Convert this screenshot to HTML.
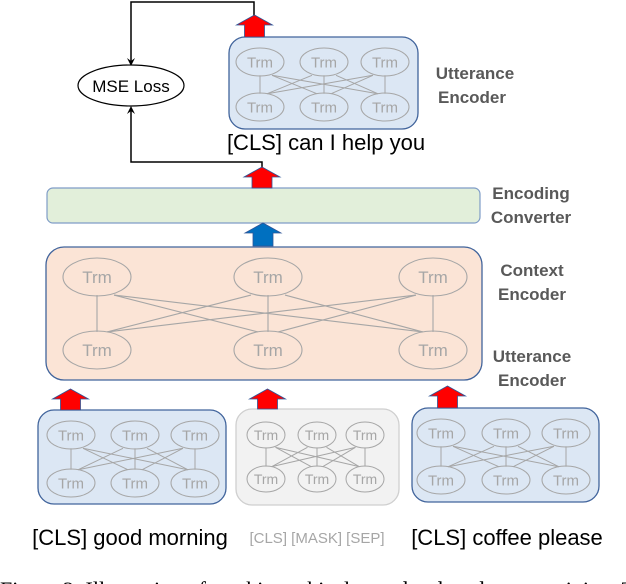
<!DOCTYPE html>
<html><head><meta charset="utf-8"><style>
html,body{margin:0;padding:0;background:#fff;width:626px;height:584px;overflow:hidden}
svg{display:block}
.trm{font-family:"Liberation Sans",sans-serif;fill:#a6a6a6}
.lbl{font-family:"Liberation Sans",sans-serif;font-weight:bold;fill:#595959;font-size:17px}
.tx{font-family:"Liberation Sans",sans-serif;fill:#000}
</style></head><body>
<svg id="s" width="626" height="584" xmlns="http://www.w3.org/2000/svg">
<defs>
<marker id="ah" markerWidth="8" markerHeight="8" refX="4" refY="4" orient="auto" markerUnits="userSpaceOnUse">
<path d="M0,0 L8,4 L0,8 L3,4 z" fill="#000"/></marker>
</defs>
<polyline points="254,17 254,2 131,2 131,62" fill="none" stroke="#000" stroke-width="1.5" marker-end="url(#ah)"/>
<polyline points="262,167 262,162 131,162 131,110" fill="none" stroke="#000" stroke-width="1.5" marker-end="url(#ah)"/>
<ellipse cx="131" cy="85.5" rx="53" ry="20.5" fill="#fff" stroke="#000" stroke-width="1.2"/>
<text x="131" y="92" text-anchor="middle" class="tx" font-size="17">MSE Loss</text>

<rect x="229" y="37" width="189" height="92" rx="16" fill="#dce7f4" stroke="#41649c" stroke-width="1.3"/>
<text x="475" y="79" text-anchor="middle" class="lbl">Utterance</text>
<text x="472" y="103" text-anchor="middle" class="lbl">Encoder</text>
<text x="326" y="150" text-anchor="middle" class="tx" font-size="22">[CLS] can I help you</text>

<rect x="47" y="188" width="433" height="35" rx="6" fill="#e2efda" stroke="#7f9cc7" stroke-width="1.2"/>
<text x="531" y="199" text-anchor="middle" class="lbl">Encoding</text>
<text x="531" y="223" text-anchor="middle" class="lbl">Converter</text>

<rect x="46" y="247" width="436" height="133" rx="18" fill="#fbe4d6" stroke="#41649c" stroke-width="1.3"/>
<text x="532" y="276" text-anchor="middle" class="lbl">Context</text>
<text x="532" y="300" text-anchor="middle" class="lbl">Encoder</text>
<text x="532" y="362" text-anchor="middle" class="lbl">Utterance</text>
<text x="532" y="386" text-anchor="middle" class="lbl">Encoder</text>

<rect x="38" y="410" width="188" height="94" rx="16" fill="#dce7f4" stroke="#41649c" stroke-width="1.3"/>
<rect x="236" y="409" width="163" height="96" rx="16" fill="#f2f2f2" stroke="#cfcfcf" stroke-width="1.3"/>
<rect x="412" y="408" width="187" height="94" rx="16" fill="#dce7f4" stroke="#41649c" stroke-width="1.3"/>

<text x="130" y="545" text-anchor="middle" class="tx" font-size="22">[CLS] good morning</text>
<text x="317" y="543" text-anchor="middle" class="tx" font-size="15" style="fill:#a6a6a6">[CLS] [MASK] [SEP]</text>
<text x="507" y="545" text-anchor="middle" class="tx" font-size="22">[CLS] coffee please</text>
<text x="0" y="597" font-family="Liberation Serif,serif" font-size="22" fill="#000">Figure 2: Illustration of our hierarchical encoder-decoder pre-training. The</text>
<g id="g"></g>
</svg>
<script>
var g=document.getElementById('g'),h='';
function grid(xs,y1,y2,rx,ry,fs,sw){
  var i,j;
  for(i=0;i<3;i++)for(j=0;j<3;j++){
    var x1=xs[i],x2=xs[j];
    h+='<line x1="'+(i==j?x1:(x1+(j>i?rx*0.5:-rx*0.5)))+'" y1="'+(y1+ry*0.95)+'" x2="'+(i==j?x2:(x2+(j>i?-rx*0.3:rx*0.3)))+'" y2="'+(y2-ry*0.95)+'" stroke="#a6a6a6" stroke-width="'+sw+'"/>';
  }
  [y1,y2].forEach(function(y){xs.forEach(function(x){
    h+='<ellipse cx="'+x+'" cy="'+y+'" rx="'+rx+'" ry="'+ry+'" fill="none" stroke="#a6a6a6" stroke-width="'+sw+'"/>';
    h+='<text x="'+x+'" y="'+(y+fs*0.36)+'" text-anchor="middle" class="trm" font-size="'+fs+'">Trm</text>';
  });});
}
grid([260,324,385],62,107,24,14,15,1);
grid([97,268,433],277,350,34,19,17,1.1);
grid([71,135,195],435,483,24,14,15,1);
grid([266,317,365],435,479,19,13,14,1);
grid([441,506,566],433,480,24,14,15,1);
function arrow(cx,top,bot,fill){
  var hw=18,sw=10,hh=10;
  h+='<path d="M'+cx+','+top+' L'+(cx+hw)+','+(top+hh)+' L'+(cx+sw)+','+(top+hh)+' L'+(cx+sw)+','+bot+' L'+(cx-sw)+','+bot+' L'+(cx-sw)+','+(top+hh)+' L'+(cx-hw)+','+(top+hh)+' Z" fill="'+fill+'" stroke="#2f5597" stroke-width="0.8"/>';
}
arrow(254.5,15,37,'#ff0000');
arrow(262,167,188,'#ff0000');
arrow(263,223,246,'#0070c0');
arrow(70.5,389,410,'#ff0000');
arrow(267.5,389,409,'#ff0000');
arrow(447.5,386,408,'#ff0000');
g.innerHTML=h;
</script>
</body></html>
